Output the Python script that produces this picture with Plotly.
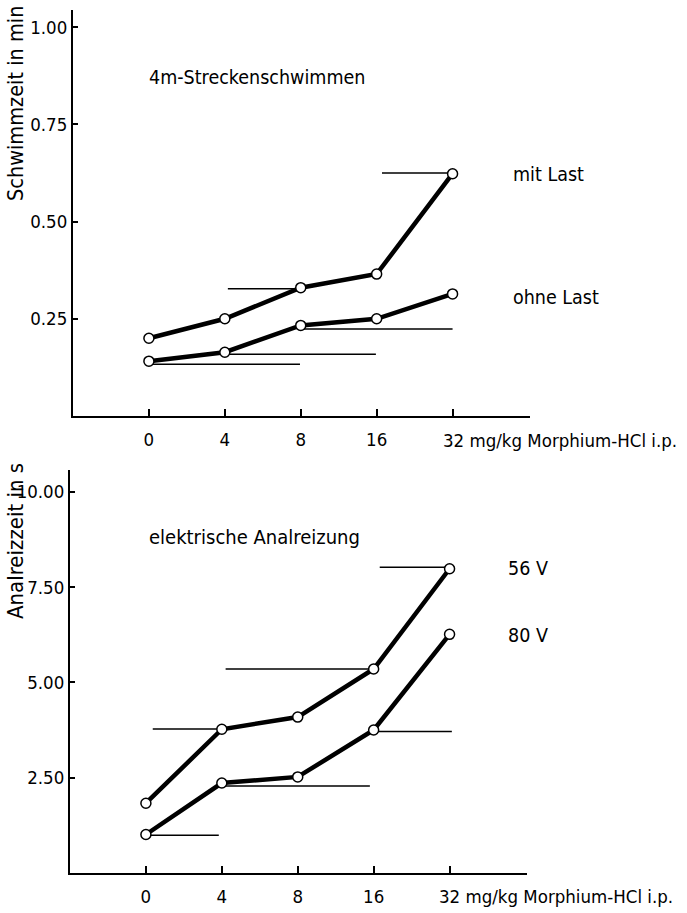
import plotly.graph_objects as go

# ---------------- data ----------------
doses = ["0", "4", "8", "16", "32"]
dose_pos = [0, 1, 2, 3, 4]

# top: Schwimmzeit in min
mit_last = [0.20, 0.25, 0.33, 0.365, 0.623]
ohne_last = [0.141, 0.164, 0.233, 0.25, 0.314]
top_ref_level = [0.625, 0.327, 0.224, 0.159, 0.133]
top_ref_start = [3.07, 1.04, 2.0, 1.0, 0.0]
top_ref_end = [4.0, 2.0, 4.0, 2.99, 1.99]

# bottom: Analreizzeit in s
v56 = [1.83, 3.77, 4.09, 5.35, 7.98]
v80 = [1.01, 2.36, 2.52, 3.75, 6.26]
bot_ref_level = [8.02, 5.35, 3.78, 3.71, 2.28, 0.99]
bot_ref_start = [3.08, 1.05, 0.09, 3.0, 1.0, 0.0]
bot_ref_end = [4.0, 3.0, 1.0, 4.03, 2.95, 0.96]

top_ticks = [0.25, 0.50, 0.75, 1.00]
top_ticktext = ["0.25", "0.50", "0.75", "1.00"]
bot_ticks = [2.5, 5.0, 7.5, 10.0]
bot_ticktext = ["2.50", "5.00", "7.50", "10.00"]

FONT = "DejaVu Sans Condensed, DejaVu Sans"
W, H = 687, 913


def px(v):
    return v / W


def py(v):
    return 1 - v / H


fig = go.Figure()


def seg_xy(starts, ends, levels):
    xs, ys = [], []
    for a, b, l in zip(starts, ends, levels):
        xs += [a, b, None]
        ys += [l, l, None]
    return xs, ys


def add_panel(xa, ya, series, refs):
    xs, ys = seg_xy(*refs)
    fig.add_trace(go.Scatter(x=xs, y=ys, mode="lines", xaxis=xa, yaxis=ya,
                             line=dict(color="black", width=1.5),
                             showlegend=False, hoverinfo="skip"))
    for vals in series:
        fig.add_trace(go.Scatter(x=dose_pos, y=vals, mode="lines+markers",
                                 xaxis=xa, yaxis=ya,
                                 line=dict(color="black", width=4.5),
                                 marker=dict(size=10, color="white",
                                             line=dict(color="black", width=1.5)),
                                 showlegend=False))


add_panel("x", "y", [mit_last, ohne_last], (top_ref_start, top_ref_end, top_ref_level))
add_panel("x2", "y2", [v56, v80], (bot_ref_start, bot_ref_end, bot_ref_level))

axis_common = dict(showline=True, linecolor="black", linewidth=2,
                   ticks="inside", tickcolor="black", tickwidth=1.5,
                   showgrid=False, zeroline=False,
                   tickfont=dict(family=FONT, size=18.5, color="black"))

xtv = dict(tickvals=dose_pos, ticktext=doses[:4] + [""], ticklen=7,
           ticklabelstandoff=6)

fig.update_layout(
    width=W, height=H,
    margin=dict(l=0, r=0, t=0, b=0),
    paper_bgcolor="white", plot_bgcolor="white",
    font=dict(family=FONT, size=18, color="black"),
    xaxis=dict(domain=[px(73), px(530)], range=[-1.0, 5.02], anchor="y",
               **xtv, **axis_common),
    yaxis=dict(domain=[py(416), py(10)], range=[0, 1.044], anchor="x",
               tickvals=top_ticks, ticktext=top_ticktext, ticklen=5,
               **axis_common),
    xaxis2=dict(domain=[px(70), px(527)], range=[-1.0, 5.02], anchor="y2",
                **xtv, **axis_common),
    yaxis2=dict(domain=[py(873), py(470)], range=[0, 10.57], anchor="x2",
                tickvals=bot_ticks, ticktext=bot_ticktext, ticklen=5,
                **axis_common),
)


def ann(text, x, y, xanchor="left", size=19.5, angle=0):
    fig.add_annotation(text=text, x=px(x), y=py(y), xref="paper", yref="paper",
                       xanchor=xanchor, yanchor="middle", showarrow=False,
                       textangle=angle, font=dict(family=FONT, size=size, color="black"))


ann("4m-Streckenschwimmen", 147, 78)
ann("mit Last", 511, 174)
ann("ohne Last", 511, 297)
ann("elektrische Analreizung", 147, 537, size=20)
ann("56 V", 506, 568)
ann("80 V", 506, 635)
ann("Schwimmzeit in min", 16, 104, xanchor="center", angle=-90, size=21.5)
ann("Analreizzeit in s", 15, 541, xanchor="center", angle=-90, size=22)
ann("32 mg/kg Morphium-HCl i.p.", 441, 440, size=18.5)
ann("32 mg/kg Morphium-HCl i.p.", 437, 896, size=18.5)

fig.write_html("out.html", config={"displayModeBar": False},
               post_script="document.body.style.margin='0';")
